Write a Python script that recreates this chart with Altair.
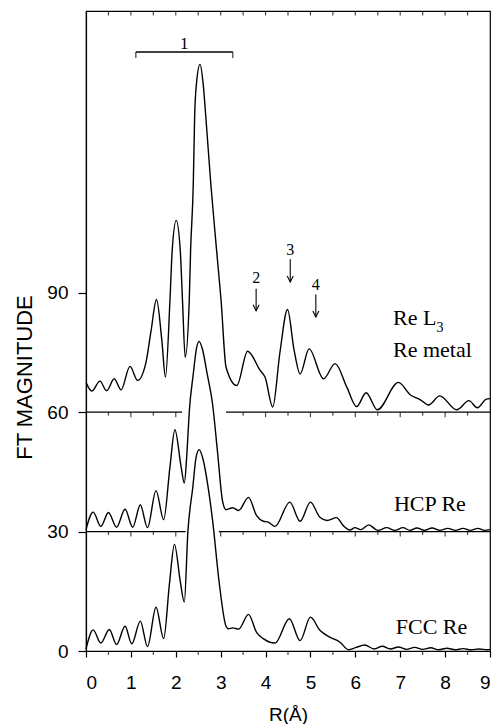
import altair as alt
import pandas as pd

# Fourier-transform magnitude vs. radial distance, three stacked traces
R_METAL = [0.00, 0.13, 0.31, 0.46, 0.63, 0.78, 0.98, 1.15, 1.33, 1.45, 1.57, 1.69, 1.77, 1.87, 1.92, 2.01,
           2.10, 2.15, 2.21, 2.30, 2.33, 2.39, 2.42, 2.46, 2.54, 2.61, 2.67, 2.78, 2.91, 3.01, 3.12, 3.36,
           3.60, 3.88, 3.99, 4.16, 4.32, 4.49, 4.63, 4.77, 4.97, 5.29, 5.55, 5.81, 6.03, 6.24, 6.49, 6.96,
           7.22, 7.45, 7.63, 7.88, 8.26, 8.53, 8.72, 8.92, 9.00]
FT_METAL = [67.5, 65.3, 67.8, 65.4, 68.4, 65.6, 71.5, 68.0, 72.2, 80.5, 88.3, 78.0, 68.8, 88.0, 100.6, 108.2,
            100.6, 88.0, 73.8, 88.0, 100.6, 117.4, 134.1, 142.5, 147.4, 142.5, 134.1, 117.4, 100.6, 88.0, 71.3, 66.7,
            75.3, 70.5, 68.8, 61.3, 75.0, 85.8, 76.0, 69.6, 75.9, 68.4, 72.2, 66.3, 61.4, 64.9, 60.6, 67.5,
            64.4, 63.1, 61.8, 64.1, 60.6, 62.9, 61.1, 63.3, 63.4]

R_HCP = [0.00, 0.16, 0.33, 0.50, 0.68, 0.87, 1.04, 1.21, 1.37, 1.56, 1.73, 1.87, 1.98, 2.12, 2.19, 2.25,
         2.30, 2.39, 2.46, 2.52, 2.59, 2.70, 2.82, 2.93, 3.04, 3.12, 3.27, 3.40, 3.62, 3.80, 3.95, 4.06,
         4.21, 4.54, 4.77, 5.00, 5.21, 5.37, 5.58, 5.73, 5.88, 5.99, 6.12, 6.30, 6.50, 6.70, 6.88, 7.06,
         7.22, 7.37, 7.54, 7.71, 7.88, 8.06, 8.23, 8.40, 8.56, 8.73, 8.88, 9.00]
FT_HCP = [30.5, 34.9, 31.3, 34.8, 31.1, 35.6, 31.1, 36.7, 31.0, 40.3, 33.0, 46.2, 55.6, 46.2, 42.2, 50.0,
          60.0, 69.6, 76.0, 77.8, 76.0, 69.6, 62.0, 50.0, 37.8, 35.5, 36.0, 35.3, 38.6, 34.0, 32.6, 32.4,
          31.3, 37.4, 32.6, 37.4, 33.6, 32.8, 33.5, 31.5, 30.4, 31.0, 30.5, 31.7, 30.3, 31.0, 30.3, 31.0,
          30.3, 30.9, 30.3, 30.9, 30.3, 30.8, 30.3, 30.8, 30.3, 30.8, 30.3, 30.5]

R_FCC = [0.00, 0.16, 0.33, 0.52, 0.68, 0.87, 1.02, 1.21, 1.37, 1.56, 1.73, 1.86, 1.97, 2.10, 2.19, 2.27,
         2.38, 2.45, 2.52, 2.60, 2.72, 2.82, 2.97, 3.12, 3.17, 3.27, 3.40, 3.62, 3.80, 3.95, 4.21, 4.53,
         4.77, 5.00, 5.21, 5.43, 5.66, 5.85, 6.02, 6.21, 6.42, 6.60, 6.78, 6.96, 7.14, 7.32, 7.50, 7.68,
         7.86, 8.04, 8.22, 8.40, 8.58, 8.76, 8.94, 9.00]
FT_FCC = [0.5, 5.3, 2.0, 5.4, 1.6, 6.2, 1.8, 7.5, 1.1, 11.0, 3.1, 17.0, 26.8, 17.5, 12.3, 30.0,
          41.2, 48.5, 50.6, 48.5, 41.2, 32.8, 16.9, 6.2, 5.6, 5.8, 5.5, 9.2, 4.7, 3.1, 2.0, 8.1,
          2.6, 8.5, 5.2, 3.5, 2.2, 0.3, 0.9, 1.5, 0.5, 1.2, 0.5, 1.0, 0.4, 0.9, 0.4, 0.8,
          0.3, 0.7, 0.3, 0.6, 0.3, 0.5, 0.3, 0.4]

# Offset baselines of the stacked traces (broken where a lower trace passes through)
BASE_LEVEL = [60, 60, 30, 30]
BASE_START = [0.0, 3.12, 0.0, 2.96]
BASE_END = [2.14, 9.0, 2.22, 9.0]

X_TICKS_MAJOR = list(range(10))
Y_TICKS = [0, 30, 60, 90]
Y_MAX = 160.8

# Shell markers
SHELL_LABELS = ["2", "3", "4"]
SHELL_R = [3.79, 4.55, 5.12]
SHELL_TEXT_V = [92.5, 99.6, 90.7]
SHELL_ARROW_TOP = [91.0, 98.4, 89.6]
SHELL_ARROW_TIP = [85.5, 92.7, 83.9]

BRACKET_R = [1.11, 3.27]
BRACKET_V = 150.5
BRACKET_LABEL = "1"

TRACE_LABELS = ["Re metal", "HCP Re", "FCC Re"]
TRACE_LABEL_R = [6.84, 6.86, 6.90]
TRACE_LABEL_V = [73.8, 35.3, 4.3]

EDGE_LABEL = "Re L"
EDGE_SUB = "3"

curves = pd.concat([
    pd.DataFrame({"R": R_METAL, "FT": FT_METAL, "trace": "Re metal"}),
    pd.DataFrame({"R": R_HCP, "FT": FT_HCP, "trace": "HCP Re"}),
    pd.DataFrame({"R": R_FCC, "FT": FT_FCC, "trace": "FCC Re"}),
])

x_scale = alt.Scale(domain=[0, 9], nice=False, zero=False)
y_scale = alt.Scale(domain=[0, Y_MAX], nice=False, zero=False)

SANS = "Liberation Sans"
SERIF = "Liberation Serif"
INK = "black"

x_enc = alt.X(
    "R:Q", scale=x_scale,
    axis=alt.Axis(
        values=X_TICKS_MAJOR, format="d", tickSize=6, tickWidth=1.2, labelPadding=16,
        labelFont=SANS, labelFontSize=19, labelColor=INK, tickColor=INK, domainColor=INK,
        domainWidth=1.2, grid=False, title="R(Å)", titleFont=SANS, titleFontSize=19,
        titleFontWeight="normal", titleColor=INK, titleY=69, titleBaseline="alphabetic",
    ),
)
y_enc = alt.Y(
    "FT:Q", scale=y_scale,
    axis=alt.Axis(
        values=Y_TICKS, tickSize=8, tickWidth=1.2, labelPadding=10, labelFont=SANS,
        labelFontSize=19, labelColor=INK, tickColor=INK, domainColor=INK, domainWidth=1.2,
        grid=False, title="FT MAGNITUDE", titleFont=SANS, titleFontSize=22,
        titleFontWeight="normal", titleColor=INK, titleX=-62, titleY=366,
        titleAlign="center", titleBaseline="middle",
    ),
)

lines = alt.Chart(curves).mark_line(
    color=INK, strokeWidth=1.4, interpolate="monotone"
).encode(x=x_enc, y=y_enc, detail="trace:N")

base_df = pd.DataFrame({"lvl": BASE_LEVEL, "r0": BASE_START, "r1": BASE_END})
baselines = alt.Chart(base_df).mark_rule(color=INK, strokeWidth=1.2).encode(
    x=alt.X("r0:Q", scale=x_scale), x2="r1:Q", y=alt.Y("lvl:Q", scale=y_scale)
)

# Ticks hanging from the baselines, the bottom axis and the top frame
tick_rows = []
for lvl, r0, r1 in zip(BASE_LEVEL, BASE_START, BASE_END):
    for k in range(1, 18):
        r = k * 0.5
        if r0 < r < r1 or (r == r0 and r0 > 0):
            tick_rows.append({"R": r, "lvl": lvl, "major": r % 1 == 0})
base_ticks = pd.DataFrame(tick_rows)

major_base = alt.Chart(base_ticks[base_ticks.major]).mark_tick(
    orient="vertical", size=5, thickness=1.2, color=INK, yOffset=2.5
).encode(x=alt.X("R:Q", scale=x_scale), y=alt.Y("lvl:Q", scale=y_scale))
minor_base = alt.Chart(base_ticks[~base_ticks.major]).mark_tick(
    orient="vertical", size=3.5, thickness=1.2, color=INK, yOffset=1.75
).encode(x=alt.X("R:Q", scale=x_scale), y=alt.Y("lvl:Q", scale=y_scale))

half_steps = pd.DataFrame({"R": [k + 0.5 for k in range(9)], "lvl": 0})
bottom_minor = alt.Chart(half_steps).mark_tick(
    orient="vertical", size=4, thickness=1.2, color=INK, yOffset=2
).encode(x=alt.X("R:Q", scale=x_scale), y=alt.Y("lvl:Q", scale=y_scale))

top_df = pd.DataFrame({"R": [k * 0.5 for k in range(1, 18)], "lvl": Y_MAX})
top_ticks = alt.Chart(top_df).mark_tick(
    orient="vertical", size=4.5, thickness=1.2, color=INK, yOffset=2.25
).encode(x=alt.X("R:Q", scale=x_scale), y=alt.Y("lvl:Q", scale=y_scale))

# First-shell bracket
bracket_df = pd.DataFrame({"r0": [BRACKET_R[0]], "r1": [BRACKET_R[1]], "v": [BRACKET_V]})
bracket = alt.Chart(bracket_df).mark_rule(color=INK, strokeWidth=1.3).encode(
    x=alt.X("r0:Q", scale=x_scale), x2="r1:Q", y=alt.Y("v:Q", scale=y_scale)
)
bracket_end_df = pd.DataFrame({"R": BRACKET_R, "v": [BRACKET_V, BRACKET_V]})
bracket_ends = alt.Chart(bracket_end_df).mark_tick(
    orient="vertical", size=6, thickness=1.3, color=INK, yOffset=3
).encode(x=alt.X("R:Q", scale=x_scale), y=alt.Y("v:Q", scale=y_scale))
bracket_text = alt.Chart(pd.DataFrame({
    "R": [(BRACKET_R[0] + BRACKET_R[1]) / 2], "v": [BRACKET_V + 0.8], "t": [BRACKET_LABEL]
})).mark_text(font=SERIF, fontSize=17, color=INK, baseline="alphabetic", align="center").encode(
    x=alt.X("R:Q", scale=x_scale), y=alt.Y("v:Q", scale=y_scale), text="t:N"
)

# Arrows marking outer shells
shell_df = pd.DataFrame({
    "R": SHELL_R, "tv": SHELL_TEXT_V, "top": SHELL_ARROW_TOP, "tip": SHELL_ARROW_TIP, "t": SHELL_LABELS
})
shell_text = alt.Chart(shell_df).mark_text(
    font=SERIF, fontSize=16, color=INK, baseline="alphabetic", align="center"
).encode(x=alt.X("R:Q", scale=x_scale), y=alt.Y("tv:Q", scale=y_scale), text="t:N")
shell_shaft = alt.Chart(shell_df).mark_rule(color=INK, strokeWidth=1.1).encode(
    x=alt.X("R:Q", scale=x_scale), y=alt.Y("top:Q", scale=y_scale), y2="tip:Q"
)
shell_head = alt.Chart(shell_df).mark_point(
    shape="M -1 -2 L 0 0 L 1 -2", filled=False, size=36, color=INK, strokeWidth=1.1, opacity=1
).encode(x=alt.X("R:Q", scale=x_scale), y=alt.Y("tip:Q", scale=y_scale))

# Trace names
trace_df = pd.DataFrame({"R": TRACE_LABEL_R, "v": TRACE_LABEL_V, "t": TRACE_LABELS})
trace_text = alt.Chart(trace_df).mark_text(
    font=SERIF, fontSize=22, color=INK, baseline="alphabetic", align="left"
).encode(x=alt.X("R:Q", scale=x_scale), y=alt.Y("v:Q", scale=y_scale), text="t:N")

edge_text = alt.Chart(pd.DataFrame({"R": [6.84], "v": [81.8], "t": [EDGE_LABEL]})).mark_text(
    font=SERIF, fontSize=22, color=INK, baseline="alphabetic", align="left"
).encode(x=alt.X("R:Q", scale=x_scale), y=alt.Y("v:Q", scale=y_scale), text="t:N")
edge_sub = alt.Chart(pd.DataFrame({"R": [7.81], "v": [80.1], "t": [EDGE_SUB]})).mark_text(
    font=SERIF, fontSize=14, color=INK, baseline="alphabetic", align="left"
).encode(x=alt.X("R:Q", scale=x_scale), y=alt.Y("v:Q", scale=y_scale), text="t:N")

chart = alt.layer(
    lines, baselines, major_base, minor_base, bottom_minor, top_ticks,
    bracket, bracket_ends, bracket_text, shell_text, shell_shaft, shell_head,
    trace_text, edge_text, edge_sub,
).properties(
    width=404, height=640,
    autosize=alt.AutoSizeParams(type="none"),
    padding={"left": 86, "top": 11, "right": 2, "bottom": 73},
    background="white",
).configure_view(stroke=INK, strokeWidth=1.2)

chart.save("out.html", embed_options={"renderer": "svg", "actions": False})
